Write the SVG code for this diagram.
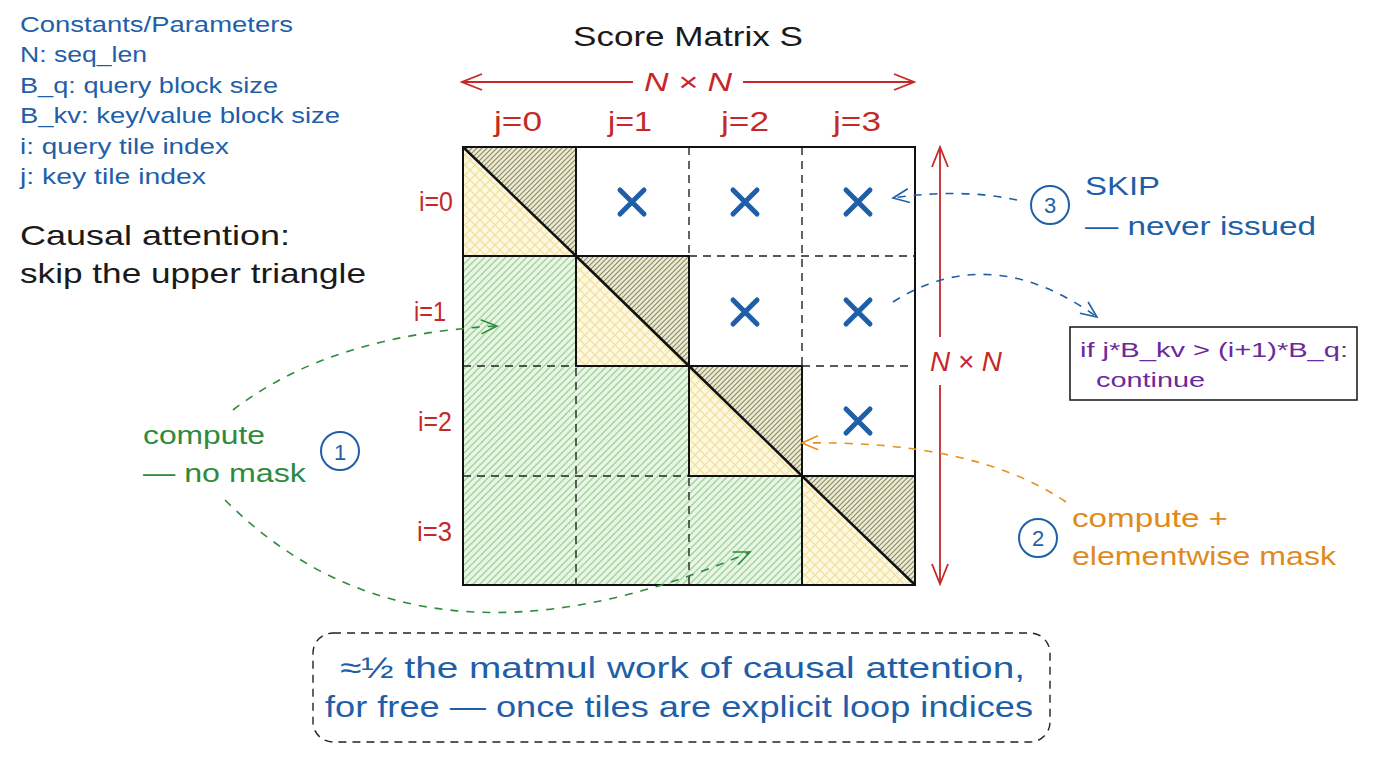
<svg xmlns="http://www.w3.org/2000/svg" width="1376" height="768" viewBox="0 0 1376 768">
<defs>
<pattern id="gh" patternUnits="userSpaceOnUse" width="7" height="7"><rect width="7" height="7" fill="#e9f5e5"/><path d="M-1,1 l2,-2 M0,7 l7,-7 M6,8 l2,-2" stroke="#9fd39a" stroke-width="1.3"/></pattern>
<pattern id="dh" patternUnits="userSpaceOnUse" width="5" height="5"><rect width="5" height="5" fill="#ecead2"/><path d="M-1,1 l2,-2 M0,5 l5,-5 M4,6 l2,-2" stroke="#8b8863" stroke-width="1.1"/></pattern>
<pattern id="yc" patternUnits="userSpaceOnUse" width="10" height="10"><rect width="10" height="10" fill="#fdf8e0"/><path d="M0,0 L10,10 M10,0 L0,10" stroke="#f1e2a2" stroke-width="1.3"/></pattern>
<marker id="ag" viewBox="0 0 20 20" refX="18" refY="10" markerWidth="20" markerHeight="20" markerUnits="userSpaceOnUse" orient="auto"><path d="M2,3 L18,10 L2,17" fill="none" stroke="#2e8b3e" stroke-width="1.6"/></marker>
<marker id="ao" viewBox="0 0 20 20" refX="18" refY="10" markerWidth="20" markerHeight="20" markerUnits="userSpaceOnUse" orient="auto"><path d="M2,3 L18,10 L2,17" fill="none" stroke="#e8901e" stroke-width="1.6"/></marker>
<marker id="ab" viewBox="0 0 20 20" refX="18" refY="10" markerWidth="20" markerHeight="20" markerUnits="userSpaceOnUse" orient="auto"><path d="M2,3 L18,10 L2,17" fill="none" stroke="#1f5fa8" stroke-width="1.6"/></marker>
<marker id="ar" viewBox="0 0 24 24" refX="22" refY="12" markerWidth="24" markerHeight="24" markerUnits="userSpaceOnUse" orient="auto"><path d="M2,4 L22,12 L2,20" fill="none" stroke="#c62828" stroke-width="1.8"/></marker>
<style>
text{font-family:"Liberation Sans","DejaVu Sans",sans-serif}
.bl{fill:#1f5fa8}
.rd{fill:#c62828}
.gr{fill:#2e8b3e}
.or{fill:#e08a1e}
.pu{fill:#6a2a9a}
.bk{fill:#1a1a1a}
.lbl{font-size:27px}
.dash{fill:none;stroke:#222;stroke-width:1.4;stroke-dasharray:8 6}
.tile{fill:none;stroke:#111;stroke-width:2}
.x{stroke:#1f5fa8;stroke-width:5;stroke-linecap:round}
.circ{fill:none;stroke:#1f5fa8;stroke-width:2}
.cg{fill:none;stroke:#2e8b3e;stroke-width:1.6;stroke-dasharray:8 8}
.co{fill:none;stroke:#e8901e;stroke-width:1.6;stroke-dasharray:8 8}
.cb{fill:none;stroke:#1f5fa8;stroke-width:1.6;stroke-dasharray:8 8}
.red{stroke:#c62828;stroke-width:1.8;fill:none}
</style>
</defs>
<rect width="1376" height="768" fill="#ffffff"/>

<g id="legend">
<text class="bl" x="20" y="32" font-size="22" textLength="273" lengthAdjust="spacingAndGlyphs">Constants/Parameters</text>
<text class="bl" x="20" y="62" font-size="22" textLength="127" lengthAdjust="spacingAndGlyphs">N: seq_len</text>
<text class="bl" x="20" y="93" font-size="22" textLength="258" lengthAdjust="spacingAndGlyphs">B_q: query block size</text>
<text class="bl" x="20" y="123" font-size="22" textLength="320" lengthAdjust="spacingAndGlyphs">B_kv: key/value block size</text>
<text class="bl" x="20" y="154" font-size="22" textLength="209" lengthAdjust="spacingAndGlyphs">i: query tile index</text>
<text class="bl" x="20" y="184" font-size="22" textLength="186" lengthAdjust="spacingAndGlyphs">j: key tile index</text>
</g>

<g id="heading">
<text class="bk" x="20" y="245" font-size="28" textLength="270" lengthAdjust="spacingAndGlyphs">Causal attention:</text>
<text class="bk" x="20" y="283" font-size="28" textLength="346" lengthAdjust="spacingAndGlyphs">skip the upper triangle</text>
</g>

<g id="title">
<text class="bk" x="688" y="46" font-size="28" text-anchor="middle" textLength="230" lengthAdjust="spacingAndGlyphs">Score Matrix S</text>
</g>

<g id="matrix">
<rect x="463" y="256" width="113" height="329" fill="url(#gh)"/>
<rect x="576" y="366" width="113" height="219" fill="url(#gh)"/>
<rect x="689" y="476" width="113" height="109" fill="url(#gh)"/>
<polygon points="463,147 576,147 576,256" fill="url(#dh)"/>
<polygon points="463,147 463,256 576,256" fill="url(#yc)"/>
<polygon points="576,256 689,256 689,366" fill="url(#dh)"/>
<polygon points="576,256 576,366 689,366" fill="url(#yc)"/>
<polygon points="689,366 802,366 802,476" fill="url(#dh)"/>
<polygon points="689,366 689,476 802,476" fill="url(#yc)"/>
<polygon points="802,476 915,476 915,585" fill="url(#dh)"/>
<polygon points="802,476 802,585 915,585" fill="url(#yc)"/>
<path class="dash" d="M576,256 V585 M689,147 V256 M689,366 V585 M802,147 V366 M802,476 V585 M463,256 H576 M689,256 H915 M463,366 H689 M802,366 H915 M463,476 H802"/>
<rect class="tile" x="463" y="147" width="113" height="109"/>
<rect class="tile" x="576" y="256" width="113" height="110"/>
<rect class="tile" x="689" y="366" width="113" height="110"/>
<rect class="tile" x="802" y="476" width="113" height="109"/>
<path d="M463,147 L576,256 M576,256 L689,366 M689,366 L802,476 M802,476 L915,585" stroke="#111" stroke-width="2.5" fill="none"/>
<rect x="463" y="147" width="452" height="438" fill="none" stroke="#111" stroke-width="2"/>
</g>

<g id="skipped">
<path class="x" d="M620,190 L644,214 M644,190 L620,214"/>
<path class="x" d="M733,190 L757,214 M757,190 L733,214"/>
<path class="x" d="M846,190 L870,214 M870,190 L846,214"/>
<path class="x" d="M733,300 L757,324 M757,300 L733,324"/>
<path class="x" d="M846,300 L870,324 M870,300 L846,324"/>
<path class="x" d="M846,409 L870,433 M870,409 L846,433"/>
</g>

<g id="col-labels">
<text class="rd lbl" x="518" y="131" text-anchor="middle" textLength="48" lengthAdjust="spacingAndGlyphs">j=0</text>
<text class="rd lbl" x="630" y="131" text-anchor="middle" textLength="44" lengthAdjust="spacingAndGlyphs">j=1</text>
<text class="rd lbl" x="745" y="131" text-anchor="middle" textLength="48" lengthAdjust="spacingAndGlyphs">j=2</text>
<text class="rd lbl" x="857" y="131" text-anchor="middle" textLength="48" lengthAdjust="spacingAndGlyphs">j=3</text>
</g>

<g id="row-labels">
<text class="rd lbl" x="453" y="211" text-anchor="end" textLength="34" lengthAdjust="spacingAndGlyphs">i=0</text>
<text class="rd lbl" x="446" y="321" text-anchor="end" textLength="32" lengthAdjust="spacingAndGlyphs">i=1</text>
<text class="rd lbl" x="452" y="431" text-anchor="end" textLength="34" lengthAdjust="spacingAndGlyphs">i=2</text>
<text class="rd lbl" x="452" y="541" text-anchor="end" textLength="35" lengthAdjust="spacingAndGlyphs">i=3</text>
</g>

<g id="dimensions">
<path class="red" d="M633,82 H462" marker-end="url(#ar)"/>
<path class="red" d="M743,82 H914" marker-end="url(#ar)"/>
<text class="rd" x="688" y="91" font-size="26" text-anchor="middle" font-style="italic" textLength="88" lengthAdjust="spacingAndGlyphs">N × N</text>
<path class="red" d="M940,337 V147" marker-end="url(#ar)"/>
<path class="red" d="M940,385 V584" marker-end="url(#ar)"/>
<text class="rd" x="966" y="371" font-size="27" text-anchor="middle" font-style="italic" textLength="72" lengthAdjust="spacingAndGlyphs">N × N</text>
</g>

<g id="connectors">
<path class="cg" d="M233,410 Q330,335 497,326" marker-end="url(#ag)"/>
<path class="cg" d="M225,500 Q420,695 750,552" marker-end="url(#ag)"/>
<path class="co" d="M1066,502 Q975,440 802,443" marker-end="url(#ao)"/>
<path class="cb" d="M1017,200 Q960,188 893,198" marker-end="url(#ab)"/>
<path class="cb" d="M893,302 Q990,240 1097,317" marker-end="url(#ab)"/>
</g>

<g id="note-compute">
<text class="gr" x="143" y="444" font-size="26" textLength="122" lengthAdjust="spacingAndGlyphs">compute</text>
<text class="gr" x="143" y="482" font-size="26" textLength="163" lengthAdjust="spacingAndGlyphs">— no mask</text>
<circle class="circ" cx="340" cy="451" r="19"/>
<text class="bl" x="340" y="460" font-size="22" text-anchor="middle">1</text>
</g>

<g id="note-mask">
<circle class="circ" cx="1038" cy="538" r="19"/>
<text class="bl" x="1038" y="546" font-size="22" text-anchor="middle">2</text>
<text class="or" x="1072" y="527" font-size="26" textLength="156" lengthAdjust="spacingAndGlyphs">compute +</text>
<text class="or" x="1072" y="565" font-size="26" textLength="264" lengthAdjust="spacingAndGlyphs">elementwise mask</text>
</g>

<g id="note-skip">
<circle class="circ" cx="1050" cy="205" r="19"/>
<text class="bl" x="1050" y="213" font-size="22" text-anchor="middle">3</text>
<text class="bl" x="1085" y="195" font-size="26" textLength="75" lengthAdjust="spacingAndGlyphs">SKIP</text>
<text class="bl" x="1085" y="235" font-size="26" textLength="231" lengthAdjust="spacingAndGlyphs">— never issued</text>
</g>

<g id="code-box">
<rect x="1070" y="327" width="287" height="73" fill="#ffffff" stroke="#222" stroke-width="1.6"/>
<text class="pu" x="1080" y="357" font-size="20" textLength="268" lengthAdjust="spacingAndGlyphs">if j*B_kv &gt; (i+1)*B_q:</text>
<text class="pu" x="1096" y="387" font-size="20" textLength="109" lengthAdjust="spacingAndGlyphs">continue</text>
</g>

<g id="summary">
<rect x="313" y="633" width="737" height="109" rx="20" fill="none" stroke="#222" stroke-width="1.4" stroke-dasharray="8 6"/>
<text class="bl" x="340" y="678" font-size="30" textLength="685" lengthAdjust="spacingAndGlyphs">≈½ the matmul work of causal attention,</text>
<text class="bl" x="325" y="717" font-size="30" textLength="708" lengthAdjust="spacingAndGlyphs">for free — once tiles are explicit loop indices</text>
</g>
</svg>
